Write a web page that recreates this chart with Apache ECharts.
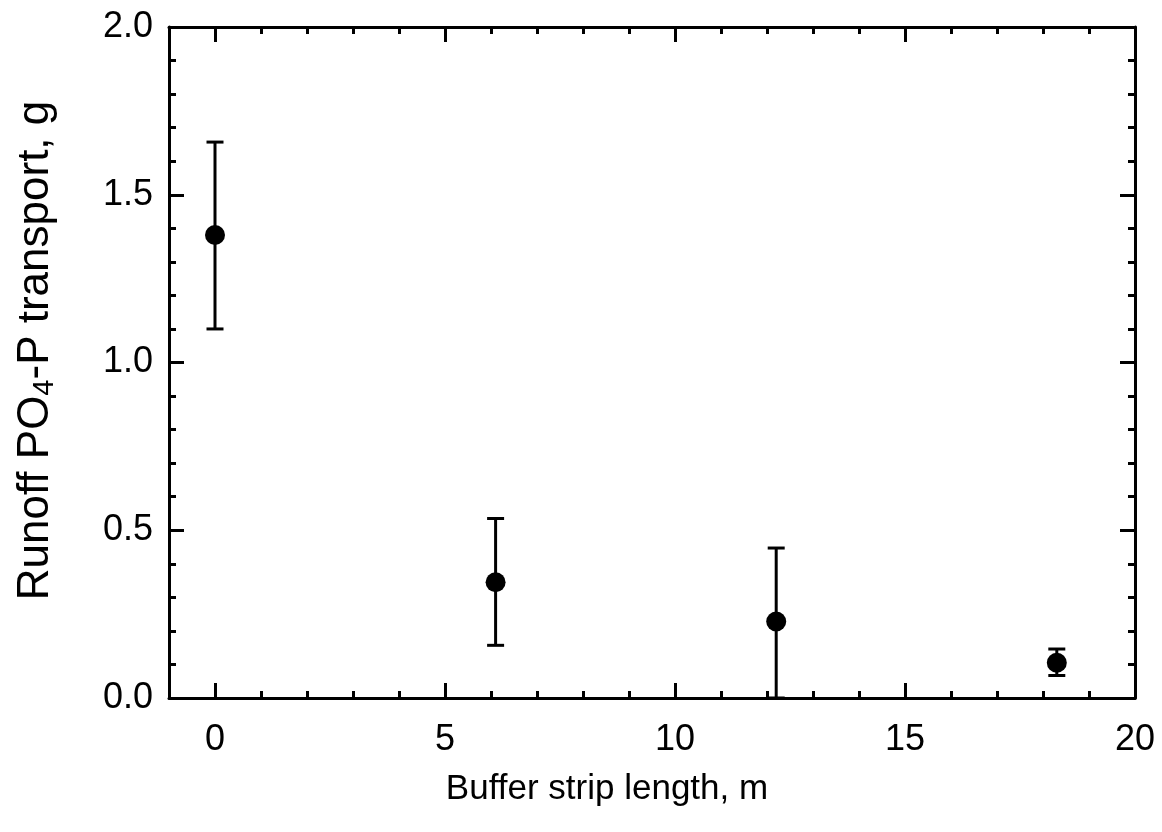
<!DOCTYPE html>
<html>
<head>
<meta charset="utf-8">
<script src="https://cdn.jsdelivr.net/npm/echarts@6/dist/echarts.min.js"></script>
<style>html,body{margin:0;padding:0;background:#fff}#c{width:1162px;height:832px}</style>
</head>
<body>
<div id="c"></div>
<script>
const bufferLength = [0, 6.1, 12.2, 18.3];
const meanTransport = [1.38, 0.345, 0.228, 0.105];
const lowerBound = [1.10, 0.157, 0.0, 0.067];
const upperBound = [1.657, 0.535, 0.447, 0.146];
const xMajorTicks = [0, 5, 10, 15, 20];
const xMinorTicks = [-1, 1, 2, 3, 4, 6, 7, 8, 9, 11, 12, 13, 14, 16, 17, 18, 19];

const FONT = 'Liberation Sans, Arial, sans-serif';
const lineStyle = { color: '#000', width: 3 };

function xAxisDef(pos, ticks, len, showLabel, showLine) {
  return {
    type: 'value', position: pos, min: -1, max: 20,
    axisLine: { show: showLine, onZero: false, lineStyle: lineStyle },
    axisTick: { show: true, inside: true, length: len, customValues: ticks, lineStyle: lineStyle },
    axisLabel: showLabel ? { show: true, customValues: xMajorTicks, margin: 24, fontSize: 36, color: '#000', fontFamily: FONT } : { show: false },
    splitLine: { show: false }
  };
}
function yAxisDef(pos, showLabel) {
  return {
    type: 'value', position: pos, min: 0, max: 2, interval: 0.5,
    axisLine: { show: true, onZero: false, lineStyle: lineStyle },
    axisTick: { show: true, inside: true, length: 15, lineStyle: lineStyle },
    minorTick: { show: true, splitNumber: 5, length: 7, lineStyle: lineStyle },
    axisLabel: showLabel ? { show: true, margin: 16, fontSize: 36, color: '#000', fontFamily: FONT, formatter: v => v.toFixed(1) } : { show: false },
    splitLine: { show: false }
  };
}

const xBottom = xAxisDef('bottom', xMajorTicks, 15, true, true);
xBottom.name = 'Buffer strip length, m';
xBottom.nameLocation = 'middle';
xBottom.nameGap = 74;
xBottom.nameTextStyle = { fontSize: 35, color: '#000', fontFamily: FONT, padding: [0, 90, 0, 0] };

const yLeft = yAxisDef('left', true);
yLeft.name = '{a|Runoff PO}{s|4}{a|-P transport, g}';
yLeft.nameLocation = 'middle';
yLeft.nameGap = 110;
yLeft.nameTextStyle = {
  color: '#000', fontFamily: FONT, padding: [0, 0, 0, 24],
  rich: {
    a: { fontSize: 44, color: '#000', fontFamily: FONT },
    s: { fontSize: 29, color: '#000', fontFamily: FONT, padding: [17, 0, 0, 0] }
  }
};

const option = {
  animation: false,
  backgroundColor: '#fff',
  grid: { left: 169, right: 27, top: 27, bottom: 134, containLabel: false },
  xAxis: [
    xBottom,
    xAxisDef('bottom', xMinorTicks, 7, false, false),
    xAxisDef('top', xMajorTicks, 15, false, true),
    xAxisDef('top', xMinorTicks, 7, false, false)
  ],
  yAxis: [yLeft, yAxisDef('right', false)],
  series: [
    {
      type: 'custom',
      xAxisIndex: 0, yAxisIndex: 0,
      data: bufferLength.map((x, i) => [x, lowerBound[i], upperBound[i]]),
      renderItem: function (params, api) {
        const x = api.value(0);
        const lo = api.coord([x, api.value(1)]);
        const hi = api.coord([x, api.value(2)]);
        const hw = 8.5;
        const st = { stroke: '#000', lineWidth: 3 };
        return {
          type: 'group',
          children: [
            { type: 'line', shape: { x1: lo[0], y1: lo[1], x2: hi[0], y2: hi[1] }, style: st },
            { type: 'line', shape: { x1: lo[0] - hw, y1: lo[1], x2: lo[0] + hw, y2: lo[1] }, style: st },
            { type: 'line', shape: { x1: hi[0] - hw, y1: hi[1], x2: hi[0] + hw, y2: hi[1] }, style: st }
          ]
        };
      },
      z: 2
    },
    {
      type: 'scatter',
      xAxisIndex: 0, yAxisIndex: 0,
      data: bufferLength.map((x, i) => [x, meanTransport[i]]),
      symbol: 'circle', symbolSize: 20,
      itemStyle: { color: '#000', opacity: 1 },
      z: 3
    }
  ]
};

const chart = echarts.init(document.getElementById('c'), null, { renderer: 'canvas' });
chart.setOption(option);
</script>
</body>
</html>
